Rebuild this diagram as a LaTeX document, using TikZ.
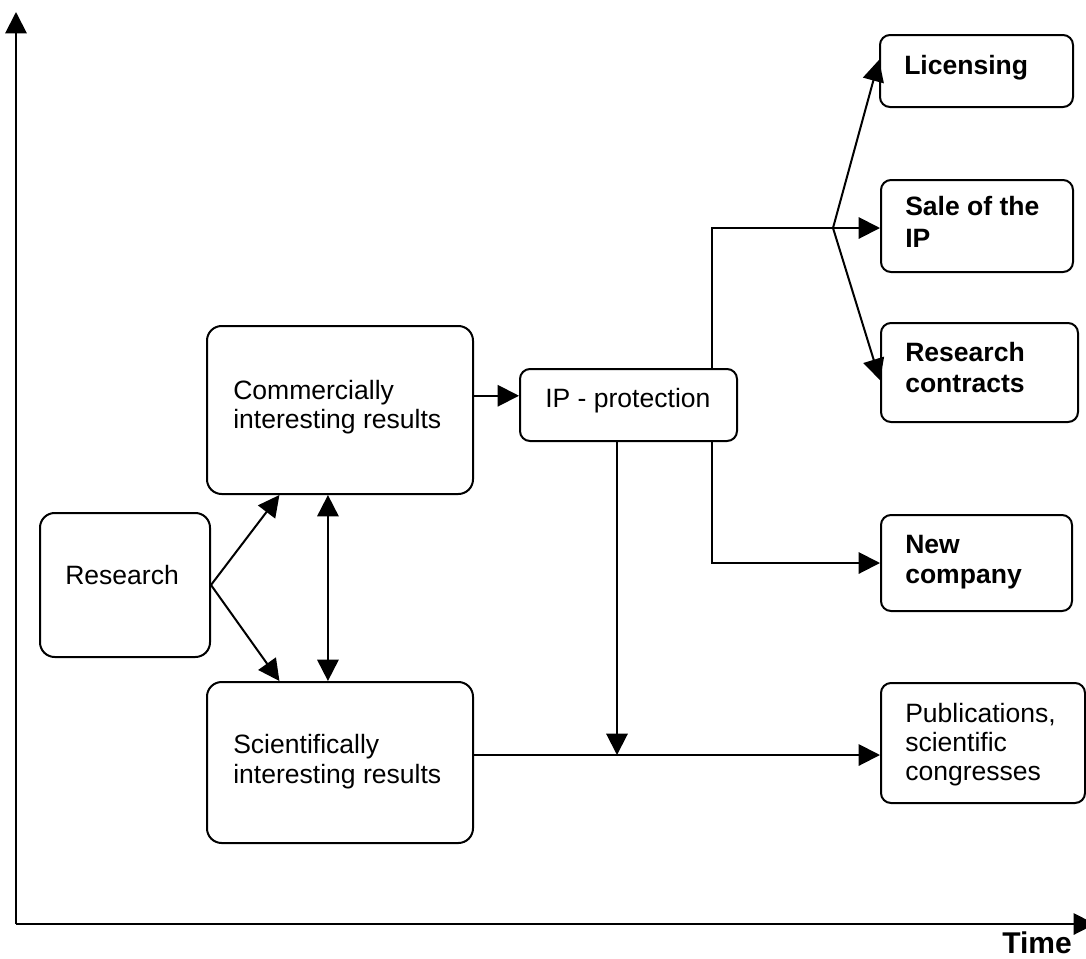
\documentclass[tikz,border=0pt]{standalone}
\usepackage{fontspec}
\setmainfont{Liberation Sans}
\usetikzlibrary{arrows.meta,fit,calc}
\begin{document}
\begin{tikzpicture}[x=0.75pt,y=-0.75pt,
  box/.style={draw, line width=1.5pt, fill=white, inner sep=0pt, rounded corners=11pt},
  sbox/.style={box, rounded corners=7.5pt},
  ln/.style={line width=1.5pt},
  arr/.style={ln, -{Triangle[length=16pt,width=16pt]}},
  darr/.style={ln, {Triangle[length=16pt,width=16pt]}-{Triangle[length=16pt,width=16pt]}},
  txt/.style={anchor=base west, inner sep=0pt, font=\fontsize{19.9pt}{22pt}\selectfont},
  btxt/.style={anchor=base west, inner sep=0pt, font=\fontsize{19.9pt}{22pt}\selectfont\bfseries}]
\clip (0,0) rectangle (1086,958);
% axes
\coordinate (org) at (16,924);
\coordinate (ytip) at (16,12);
\coordinate (xtip) at (1095,924);
\draw[arr] (org) -- (ytip);
\draw[arr] (org) -- (xtip);
\node[anchor=base east, inner sep=0pt, font=\fontsize{22.5pt}{26pt}\selectfont\bfseries] (time) at (1072,953) {Time};
% boxes
\node[box, fit={(40,513) (210,657)}] (res) {};
\node[box, fit={(207,326) (473,494)}] (comm) {};
\node[box, fit={(207,682) (473,843)}] (sci) {};
\node[sbox, fit={(520,369) (737,441)}] (ip) {};
\node[sbox, fit={(880,35) (1073,107)}] (lic) {};
\node[sbox, fit={(881,180) (1073,272)}] (sale) {};
\node[sbox, fit={(881,323) (1078,422)}] (rc) {};
\node[sbox, fit={(881,515) (1072,611)}] (newc) {};
\node[sbox, fit={(881,683) (1085,803)}] (pub) {};
% texts
\node[txt] (tres) at (65,584) {Research};
\node[txt] (tcomm) at (233,399) {\vtop{\baselineskip=21.75pt\hbox{Commercially}\hbox{interesting results}}};
\node[txt] (tsci) at (233,753) {\vtop{\baselineskip=22.5pt\hbox{Scientifically}\hbox{interesting results}}};
\node[txt] (tip) at (545,407) {IP - protection};
\node[btxt] (tlic) at (904,74) {Licensing};
\node[btxt] (tsale) at (905,215) {\vtop{\baselineskip=24pt\hbox{Sale of the}\hbox{IP}}};
\node[btxt] (trc) at (905,361) {\vtop{\baselineskip=23.25pt\hbox{Research}\hbox{contracts}}};
\node[btxt] (tnewc) at (905,553) {\vtop{\baselineskip=22.5pt\hbox{New}\hbox{company}}};
\node[txt] (tpub) at (905,722) {\vtop{\baselineskip=21.75pt\hbox{Publications,}\hbox{scientific}\hbox{congresses}}};
% connectors
\draw[arr] (res.east) -- ($(comm.south west)!0.274!(comm.south east)$);
\draw[arr] (res.east) -- ($(sci.north west)!0.274!(sci.north east)$);
\draw[darr] ($(comm.south west)!0.455!(comm.south east)$) -- ($(sci.north west)!0.455!(sci.north east)$);
\coordinate (ipl) at ($(ip.north west)!0.375!(ip.south west)$);
\draw[arr] (comm.east |- ipl) -- (ipl);
\coordinate (vx) at (712,228);
\coordinate (br) at (833,228);
\draw[ln] (ip.north -| vx) -- (vx) -- (br);
\draw[arr] (br) -- ($(lic.north west)!0.35!(lic.south west)$);
\draw[arr] (br) -- (sale.west |- br);
\draw[arr] (br) -- ($(rc.north west)!0.576!(rc.south west)$);
\draw[arr] (ip.south -| vx) |- (newc.west);
\coordinate (jn) at (617,755);
\draw[arr] (ip.south -| jn) -- (jn);
\draw[arr] (sci.east |- jn) -- (pub.west |- jn);
\end{tikzpicture}
\end{document}
